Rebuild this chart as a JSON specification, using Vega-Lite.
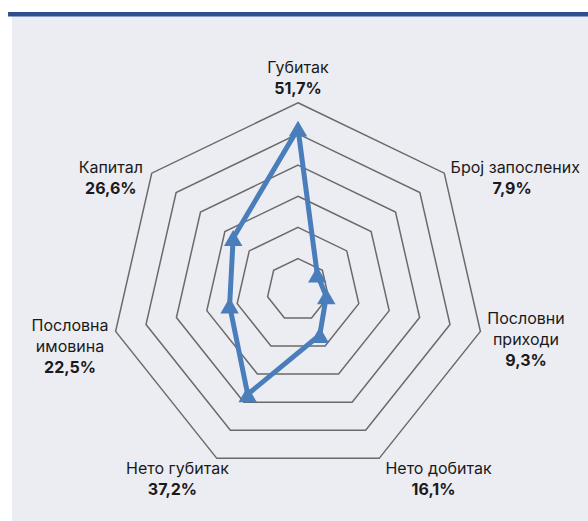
{
  "$schema": "https://vega.github.io/schema/vega-lite/v6.json",
  "width": 576,
  "height": 509,
  "autosize": {"type": "none"},
  "padding": {"left": 12, "top": 12, "right": 0, "bottom": 0},
  "background": "#ffffff",
  "config": {"view": {"fill": "#ECEDF3", "stroke": null}},
  "datasets": {
    "radar": [
      {"cat": "Губитак", "k": 0, "v": 51.7, "lines": ["Губитак"], "val": "51,7%"},
      {"cat": "Број запослених", "k": 1, "v": 7.9, "lines": ["Број запослених"], "val": "7,9%"},
      {"cat": "Пословни приходи", "k": 2, "v": 9.3, "lines": ["Пословни", "приходи"], "val": "9,3%"},
      {"cat": "Нето добитак", "k": 3, "v": 16.1, "lines": ["Нето добитак"], "val": "16,1%"},
      {"cat": "Нето губитак", "k": 4, "v": 37.2, "lines": ["Нето губитак"], "val": "37,2%"},
      {"cat": "Пословна имовина", "k": 5, "v": 22.5, "lines": ["Пословна", "имовина"], "val": "22,5%"},
      {"cat": "Капитал", "k": 6, "v": 26.6, "lines": ["Капитал"], "val": "26,6%"}
    ],
    "rings": [
      {"ring": 10, "k": [0, 1, 2, 3, 4, 5, 6]},
      {"ring": 20, "k": [0, 1, 2, 3, 4, 5, 6]},
      {"ring": 30, "k": [0, 1, 2, 3, 4, 5, 6]},
      {"ring": 40, "k": [0, 1, 2, 3, 4, 5, 6]},
      {"ring": 50, "k": [0, 1, 2, 3, 4, 5, 6]},
      {"ring": 60, "k": [0, 1, 2, 3, 4, 5, 6]}
    ]
  },
  "layer": [
    {
      "data": {"name": "rings"},
      "transform": [
        {"flatten": ["k"]},
        {"calculate": "2*PI*datum.k/7", "as": "a"},
        {"calculate": "datum.ring*sin(datum.a)", "as": "px"},
        {"calculate": "datum.ring*cos(datum.a)", "as": "py"}
      ],
      "mark": {"type": "line", "interpolate": "linear-closed", "color": "#6A6A6A", "strokeWidth": 1.5},
      "encoding": {
        "x": {"field": "px", "type": "quantitative", "scale": {"domain": [-91.73, 93.01], "nice": false, "zero": false}, "axis": null},
        "y": {"field": "py", "type": "quantitative", "scale": {"domain": [-74.15, 89.10], "nice": false, "zero": false}, "axis": null},
        "detail": {"field": "ring", "type": "nominal"},
        "order": {"field": "k", "type": "quantitative"}
      }
    },
    {
      "data": {"name": "radar"},
      "transform": [
        {"calculate": "2*PI*datum.k/7", "as": "a"},
        {"calculate": "datum.v*sin(datum.a)", "as": "px"},
        {"calculate": "datum.v*cos(datum.a)", "as": "py"}
      ],
      "mark": {"type": "line", "interpolate": "linear-closed", "color": "#4A7EBB", "strokeWidth": 5, "strokeJoin": "round"},
      "encoding": {
        "x": {"field": "px", "type": "quantitative", "scale": {"domain": [-91.73, 93.01], "nice": false, "zero": false}, "axis": null},
        "y": {"field": "py", "type": "quantitative", "scale": {"domain": [-74.15, 89.10], "nice": false, "zero": false}, "axis": null},
        "order": {"field": "k", "type": "quantitative"}
      }
    },
    {
      "data": {"name": "radar"},
      "transform": [
        {"calculate": "2*PI*datum.k/7", "as": "a"},
        {"calculate": "datum.v*sin(datum.a)", "as": "px"},
        {"calculate": "datum.v*cos(datum.a)", "as": "py"}
      ],
      "mark": {"type": "point", "shape": "triangle-up", "filled": true, "size": 340, "color": "#4A7EBB", "opacity": 1},
      "encoding": {
        "x": {"field": "px", "type": "quantitative", "scale": {"domain": [-91.73, 93.01], "nice": false, "zero": false}, "axis": null},
        "y": {"field": "py", "type": "quantitative", "scale": {"domain": [-74.15, 89.10], "nice": false, "zero": false}, "axis": null}
      }
    },
    {
      "data": {"name": "radar"},
      "transform": [
        {"calculate": "2*PI*datum.k/7", "as": "a"},
        {"calculate": "sin(datum.a)", "as": "s"},
        {"calculate": "cos(datum.a)", "as": "c"},
        {"calculate": "length(datum.lines)", "as": "nl"},
        {"calculate": "length(datum.lines[0])*1.507", "as": "hw"},
        {"calculate": "datum.s > 0.01 ? 1 : (datum.s < -0.01 ? -1 : 0)", "as": "sg"},
        {"calculate": "60*datum.s + datum.sg*(datum.hw + (abs(datum.c) > 0.8 ? -2.25 : 2.57)) + (datum.c < -0.8 ? 3.2 : (datum.c > 0.5 && datum.s > 0.5 ? -2.4 : 0))", "as": "lx"},
        {"calculate": "60*datum.c + (datum.c > 0.8 ? (datum.nl+1)*3.367 + 1.1 : (datum.c < -0.8 ? -(datum.nl+1)*3.367 : (datum.c > 0 ? -1.6 : (datum.s > 0 ? -2.6 : -4.9))))", "as": "yc"},
        {"flatten": ["lines"], "as": ["line"]},
        {"window": [{"op": "row_number", "as": "ln"}], "groupby": ["cat"]},
        {"calculate": "datum.yc - (datum.ln - 1 - datum.nl/2)*6.735", "as": "ly"}
      ],
      "mark": {"type": "text", "font": "Inter", "fontSize": 16, "color": "#1A1A1A", "align": "center", "baseline": "middle"},
      "encoding": {
        "x": {"field": "lx", "type": "quantitative", "scale": {"domain": [-91.73, 93.01], "nice": false, "zero": false}, "axis": null},
        "y": {"field": "ly", "type": "quantitative", "scale": {"domain": [-74.15, 89.10], "nice": false, "zero": false}, "axis": null},
        "text": {"field": "line", "type": "nominal"}
      }
    },
    {
      "data": {"name": "radar"},
      "transform": [
        {"calculate": "2*PI*datum.k/7", "as": "a"},
        {"calculate": "sin(datum.a)", "as": "s"},
        {"calculate": "cos(datum.a)", "as": "c"},
        {"calculate": "length(datum.lines)", "as": "nl"},
        {"calculate": "length(datum.lines[0])*1.507", "as": "hw"},
        {"calculate": "datum.s > 0.01 ? 1 : (datum.s < -0.01 ? -1 : 0)", "as": "sg"},
        {"calculate": "60*datum.s + datum.sg*(datum.hw + (abs(datum.c) > 0.8 ? -2.25 : 2.57)) + (datum.c < -0.8 ? 1.6 : (datum.c > 0.5 && datum.s > 0.5 ? -3.4 : 0))", "as": "lx"},
        {"calculate": "60*datum.c + (datum.c > 0.8 ? (datum.nl+1)*3.367 + 1.1 : (datum.c < -0.8 ? -(datum.nl+1)*3.367 : (datum.c > 0 ? -1.6 : (datum.s > 0 ? -2.6 : -4.9))))", "as": "yc"},
        {"calculate": "datum.yc - datum.nl*3.3675", "as": "ly"}
      ],
      "mark": {"type": "text", "font": "Inter", "fontSize": 16, "fontWeight": "bold", "color": "#1A1A1A", "align": "center", "baseline": "middle"},
      "encoding": {
        "x": {"field": "lx", "type": "quantitative", "scale": {"domain": [-91.73, 93.01], "nice": false, "zero": false}, "axis": null},
        "y": {"field": "ly", "type": "quantitative", "scale": {"domain": [-74.15, 89.10], "nice": false, "zero": false}, "axis": null},
        "text": {"field": "val", "type": "nominal"}
      }
    },
    {
      "data": {"values": [{"x0": -93.0, "x1": 93.01, "ytop": 89.10}]},
      "mark": {"type": "rule", "color": "#2E4F8F", "strokeWidth": 4.5, "yOffset": 2.2},
      "encoding": {
        "x": {"field": "x0", "type": "quantitative", "scale": {"domain": [-91.73, 93.01], "nice": false, "zero": false}, "axis": null},
        "x2": {"field": "x1"},
        "y": {"field": "ytop", "type": "quantitative", "scale": {"domain": [-74.15, 89.10], "nice": false, "zero": false}, "axis": null}
      }
    }
  ]
}
